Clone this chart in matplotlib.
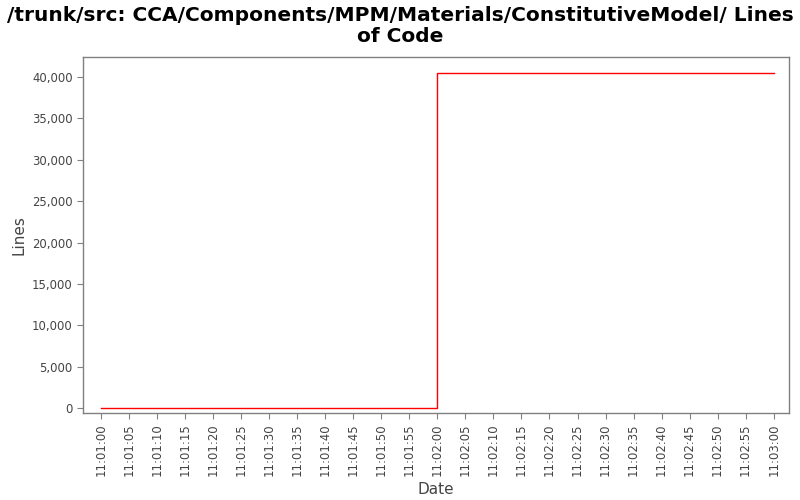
import matplotlib
matplotlib.use("Agg")
import matplotlib.pyplot as plt
import matplotlib.dates as mdates
from matplotlib.ticker import FuncFormatter
from datetime import datetime, timedelta

# Data
times = ["11:01:00", "11:02:00", "11:03:00"]
lines_of_code = [0, 40430, 40430]

title = "/trunk/src: CCA/Components/MPM/Materials/ConstitutiveModel/ Lines\nof Code"

base = datetime(2000, 1, 1)
def to_dt(s):
    h, m, sec = map(int, s.split(":"))
    return base + timedelta(hours=h, minutes=m, seconds=sec)

x = [to_dt(t) for t in times]

fig = plt.figure(figsize=(8, 5), dpi=100)
ax = fig.add_axes([0.104, 0.174, 0.882, 0.712])

ax.plot(x, lines_of_code, drawstyle="steps-post", color="#ff0000", linewidth=1)

ax.set_xlim(x[0] - timedelta(seconds=3.2), x[-1] + timedelta(seconds=2.7))
ax.set_ylim(-600, 42420)

ax.xaxis.set_major_locator(mdates.SecondLocator(bysecond=range(0, 60, 5)))
ax.xaxis.set_major_formatter(mdates.DateFormatter("%H:%M:%S"))
ax.set_yticks(range(0, 40001, 5000))
ax.yaxis.set_major_formatter(FuncFormatter(lambda v, p: f"{int(v):,}"))

for lab in ax.get_xticklabels():
    lab.set_rotation(90)

ax.tick_params(axis="both", colors="#808080", labelcolor="#444444", labelsize=8.4, length=4, width=0.8)
for s in ax.spines.values():
    s.set_color("#808080")
    s.set_linewidth(1)

ax.set_xlabel("Date", fontsize=11, color="#444444")
ax.set_ylabel("Lines", fontsize=11, color="#444444")

fig.suptitle(title, fontsize=14.5, fontweight="bold", y=0.988, linespacing=1.15)

fig.savefig("out.png", dpi=100)
